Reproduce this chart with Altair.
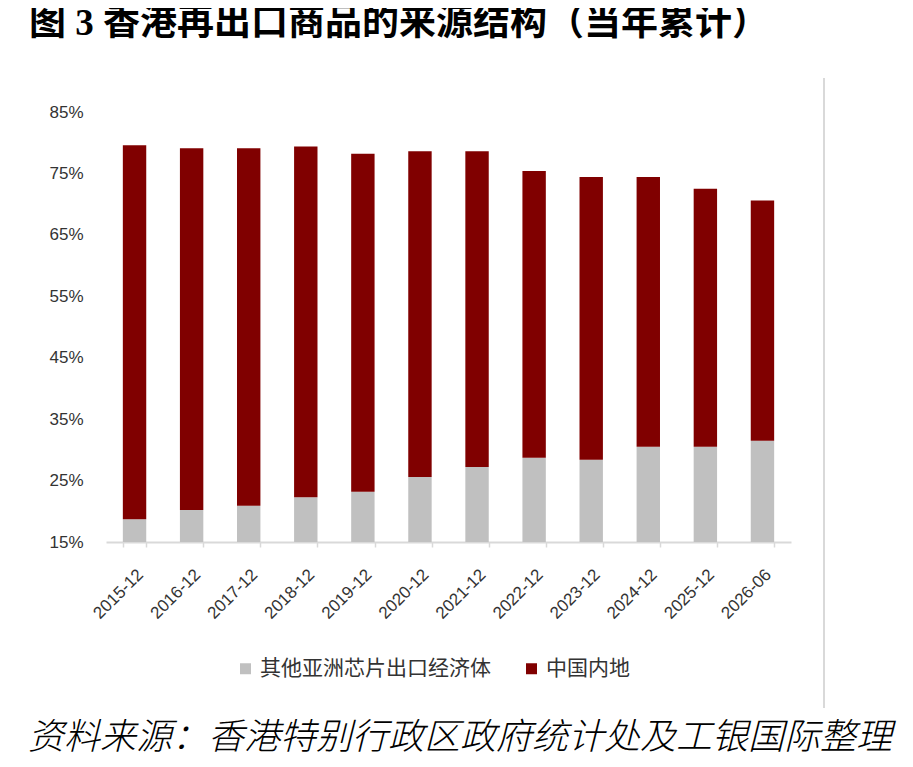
import altair as alt
import pandas as pd

# 数据：当年累计占比
periods = ["2015-12", "2016-12", "2017-12", "2018-12", "2019-12", "2020-12",
           "2021-12", "2022-12", "2023-12", "2024-12", "2025-12", "2026-06"]
other_asia = [0.187, 0.202, 0.209, 0.223, 0.232, 0.256,
              0.272, 0.287, 0.284, 0.305, 0.305, 0.315]
total = [0.796, 0.791, 0.791, 0.794, 0.782, 0.786,
         0.786, 0.754, 0.744, 0.744, 0.725, 0.706]
mainland = [round(t - o, 3) for t, o in zip(total, other_asia)]

series = ["其他亚洲芯片出口经济体", "中国内地"]
colors = ["#c0c0c0", "#800000"]
y_ticks = [0.15, 0.25, 0.35, 0.45, 0.55, 0.65, 0.75, 0.85]

title_text = "图 3 香港再出口商品的来源结构（当年累计）"
source_text = "资料来源：香港特别行政区政府统计处及工银国际整理"

rows = []
for p, o, m in zip(periods, other_asia, mainland):
    rows.append({"period": p, "series": series[0], "value": o, "rank": 0})
    rows.append({"period": p, "series": series[1], "value": m, "rank": 1})
df = pd.DataFrame(rows)

W, H = 685, 430

bars = alt.Chart(df).mark_bar(clip=True).encode(
    x=alt.X("period:N", sort=periods, title=None,
            scale=alt.Scale(paddingInner=0.59, paddingOuter=0.295),
            axis=alt.Axis(labelAngle=-45, tickBand="extent", tickSize=5,
                          tickWidth=1.5, tickColor="#d9d9d9",
                          domainColor="#d9d9d9", domainWidth=2,
                          labelPadding=19, labelFontSize=17,
                          labelColor="#333333", labelFont="Liberation Sans")),
    y=alt.Y("value:Q", stack="zero", title=None,
            scale=alt.Scale(domain=[0.15, 0.85], nice=False, zero=False),
            axis=alt.Axis(values=y_ticks, format=".0%", domain=False,
                          ticks=False, grid=False, labelPadding=23,
                          labelFontSize=17, labelColor="#333333",
                          labelFont="Liberation Sans")),
    color=alt.Color("series:N", sort=series,
                    scale=alt.Scale(domain=series, range=colors),
                    legend=alt.Legend(title=None, orient="none",
                                      direction="horizontal",
                                      legendX=129, legendY=546,
                                      symbolType="square", symbolSize=121,
                                      symbolStrokeWidth=0,
                                      labelFontSize=21, labelColor="#333333",
                                      labelFont="Noto Sans CJK SC",
                                      labelOffset=4, columnPadding=30,
                                      labelLimit=400)),
    order=alt.Order("rank:Q"),
)

title = alt.Chart(pd.DataFrame({"t": [title_text]})).mark_text(
    align="left", baseline="middle", fontSize=37, fontWeight="bold",
    font='"Liberation Serif", "Noto Sans CJK SC"', color="#000000",
).encode(x=alt.value(-77), y=alt.value(-88), text="t:N")

source = alt.Chart(pd.DataFrame({"t": [source_text]})).mark_text(
    align="left", baseline="middle", fontSize=36, fontStyle="italic",
    fontWeight=300, font="Noto Sans CJK SC", color="#000000",
).encode(x=alt.value(-78), y=alt.value(626), text="t:N")

frame = alt.Chart(pd.DataFrame({"a": [0]})).mark_rule(
    color="#c0c0c0", strokeWidth=1.2
).encode(x=alt.value(718), y=alt.value(-34), y2=alt.value(596))

chart = alt.layer(bars, title, source, frame).properties(
    width=W, height=H,
    background="white",
    autosize=alt.AutoSizeParams(type="none"),
    padding={"left": 98, "top": 104, "right": 114, "bottom": 217},
).configure_view(stroke=None)

chart.save("out.html", embed_options={"renderer": "svg", "actions": False})
